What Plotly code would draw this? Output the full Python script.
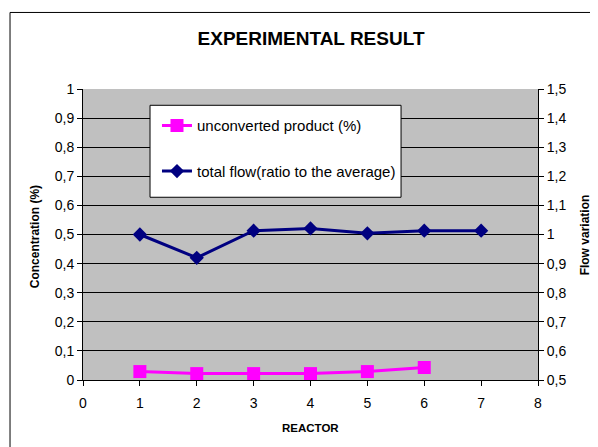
import plotly.graph_objects as go

reactors = [1, 2, 3, 4, 5, 6, 7]
unconverted = [0.029, 0.022, 0.022, 0.022, 0.029, 0.043]
flow = [1.0, 0.92, 1.013, 1.021, 1.004, 1.013, 1.013]

FONT = "Liberation Sans, Arial, sans-serif"

fig = go.Figure()
fig.add_trace(go.Scatter(
    x=reactors[:len(unconverted)], y=unconverted, name="unconverted product (%)",
    mode="lines+markers", line=dict(color="#FF00FF", width=3),
    marker=dict(symbol="square", size=13, color="#FF00FF"),
    legendgroup="a", yaxis="y"))
fig.add_trace(go.Scatter(
    x=reactors, y=flow, name="total flow(ratio to the average)",
    mode="lines+markers", line=dict(color="#000080", width=3),
    marker=dict(symbol="diamond", size=11, color="#000080"),
    legendgroup="b", yaxis="y2"))

# page body adds an 8px offset; figure sized to fit the 598x447 window
fig.update_layout(
    width=590, height=439,
    margin=dict(l=75, r=60, t=81, b=67, autoexpand=False),
    paper_bgcolor="white", plot_bgcolor="#C0C0C0",
    separators=",.",
    font=dict(family=FONT, size=14, color="black"),
    title=dict(text="<b>EXPERIMENTAL RESULT</b>", x=0.5136, xanchor="center",
               y=0.9317, yanchor="middle", font=dict(size=19, family=FONT)),
    xaxis=dict(range=[0, 8], dtick=1, showgrid=False, zeroline=False,
               showline=True, linecolor="black", linewidth=1, automargin=False,
               ticks="outside", ticklen=5, tickcolor="black", ticklabelstandoff=5),
    yaxis=dict(range=[0, 1], dtick=0.1, showgrid=True, gridcolor="black", gridwidth=1,
               zeroline=False, showline=True, linecolor="black", linewidth=1, automargin=False,
               ticks="outside", ticklen=5, tickcolor="black"),
    yaxis2=dict(range=[0.5, 1.5], dtick=0.1, overlaying="y", side="right",
                showgrid=False, zeroline=False, showline=True, linecolor="black", linewidth=1,
                automargin=False, ticks="outside", ticklen=5, tickcolor="black"),
    legend=dict(x=0.1626, y=0.930, xanchor="left", yanchor="top",
                bgcolor="rgba(0,0,0,0)", borderwidth=0,
                tracegroupgap=23, font=dict(size=15, family=FONT),
                itemwidth=30),
    showlegend=True,
)

# axis titles
fig.add_annotation(text="<b>REACTOR</b>", xref="paper", yref="paper", x=0.501, y=-0.165,
                   showarrow=False, font=dict(size=11.5), xanchor="center", yanchor="middle")
fig.add_annotation(text="<b>Concentration (%)</b>", xref="paper", yref="paper", x=-0.1055, y=0.494,
                   showarrow=False, textangle=-90, font=dict(size=12), xanchor="center", yanchor="middle")
fig.add_annotation(text="<b>Flow variation</b>", xref="paper", yref="paper", x=1.1033, y=0.497,
                   showarrow=False, textangle=-90, font=dict(size=12), xanchor="center", yanchor="middle")

# outer chart frame
fig.add_shape(type="rect", xref="paper", yref="paper",
              x0=-0.1604, y0=-0.4, x1=1.3, y1=1.263,
              line=dict(color="black", width=1), fillcolor="rgba(0,0,0,0)", layer="below")
# legend box
fig.add_shape(type="rect", xref="paper", yref="paper",
              x0=0.1473, y0=0.628, x1=0.699, y1=0.944,
              line=dict(color="black", width=1), fillcolor="white", layer="above")

fig.write_html("out.html")
